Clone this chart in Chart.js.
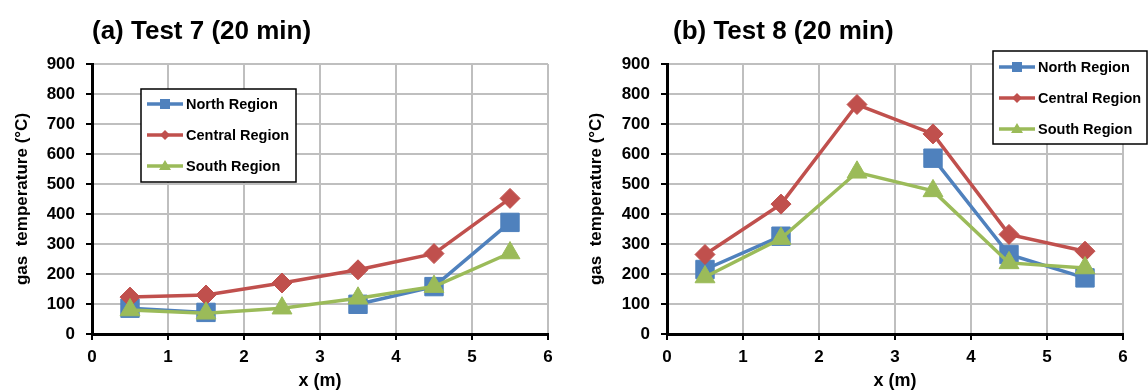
<!DOCTYPE html>
<html>
<head>
<meta charset="utf-8">
<script src="https://cdn.jsdelivr.net/npm/chart.js@4.4.1/dist/chart.umd.min.js"></script>
<style>
html,body{margin:0;padding:0;background:#fff;}
#wrap{display:flex;width:1148px;height:392px;overflow:hidden;}
.panel{position:relative;width:574px;height:392px;}
.panel canvas{position:absolute;left:0;top:0;}
.ttl{position:absolute;top:15px;font:bold 26px "Liberation Sans",Arial,sans-serif;color:#000;white-space:nowrap;line-height:30px;}
</style>
</head>
<body>
<div id="wrap">
  <div class="panel">
    <canvas id="test7" width="574" height="392"></canvas>
    <div class="ttl" style="left:92px">(a) Test 7 (20 min)</div>
  </div>
  <div class="panel">
    <canvas id="test8" width="574" height="392"></canvas>
    <div class="ttl" style="left:99px">(b) Test 8 (20 min)</div>
  </div>
</div>
<script>
// x positions along the tunnel (m)
const xPos = [0.5, 1.5, 2.5, 3.5, 4.5, 5.5];
const seriesNames = ['North Region', 'Central Region', 'South Region'];
const seriesColors = ['#4F81BD', '#C0504D', '#9BBB59'];
const pointStyles = ['rect', 'rectRot', 'triangle'];
const pointSizes = [13, 10, 11.5];

// Test 7, gas temperature at 20 min (°C)
const test7North = [86, 72, null, 99, 158, 372];
const test7Central = [123, 130, 170, 214, 268, 452];
const test7South = [80, 69, 86, 119, 158, 270];

// Test 8, gas temperature at 20 min (°C)
const test8North = [215, 326, null, 586, 265, 187];
const test8Central = [265, 433, 765, 667, 332, 276];
const test8South = [190, 318, 539, 477, 237, 220];

const FONT = '"Liberation Sans", Arial, sans-serif';

// legend drawn as a bordered box inside the plot, like the Excel one
const boxLegend = {
  id: 'boxLegend',
  afterDraw(chart, args, o) {
    const ctx = chart.ctx;
    const a = chart.chartArea;
    const x = a.left + o.dx, y = a.top + o.dy;
    ctx.save();
    ctx.fillStyle = '#fff';
    ctx.fillRect(x, y, o.w, o.h);
    ctx.strokeStyle = '#000';
    ctx.lineWidth = 1.5;
    ctx.strokeRect(x, y, o.w, o.h);
    chart.data.datasets.forEach((ds, i) => {
      const ry = y + o.first + i * o.gap;
      ctx.strokeStyle = ds.borderColor;
      ctx.lineWidth = 3.5;
      ctx.beginPath();
      ctx.moveTo(x + 6, ry);
      ctx.lineTo(x + 42, ry);
      ctx.stroke();
      ctx.fillStyle = ds.borderColor;
      const cx = x + 24;
      ctx.beginPath();
      if (ds.pointStyle === 'rect') {
        ctx.rect(cx - 5, ry - 5, 10, 10);
      } else if (ds.pointStyle === 'rectRot') {
        ctx.moveTo(cx, ry - 5); ctx.lineTo(cx + 5, ry); ctx.lineTo(cx, ry + 5); ctx.lineTo(cx - 5, ry);
        ctx.closePath();
      } else {
        ctx.moveTo(cx, ry - 6); ctx.lineTo(cx + 6, ry + 4); ctx.lineTo(cx - 6, ry + 4);
        ctx.closePath();
      }
      ctx.fill();
      ctx.fillStyle = '#000';
      ctx.font = 'bold 14.5px ' + FONT;
      ctx.textBaseline = 'middle';
      ctx.fillText(ds.label, x + 45, ry + 1);
    });
    ctx.restore();
  }
};

function makeDatasets(north, central, south){
  return [north, central, south].map((vals, i) => ({
    label: seriesNames[i],
    data: xPos.map((x, j) => ({x: x, y: vals[j]})),
    borderColor: seriesColors[i],
    backgroundColor: seriesColors[i],
    pointStyle: pointStyles[i],
    pointRadius: pointSizes[i],
    pointBorderWidth: 1,
    pointBorderColor: seriesColors[i],
    borderWidth: 3.5,
    tension: 0,
    spanGaps: false,
    order: 2 - i
  }));
}

function makeChart(id, datasets, yWidth, rightPad, legendPos){
  const tickFont = {family: FONT, size: 17, weight: 'bold'};
  return new Chart(document.getElementById(id), {
    type: 'line',
    data: {datasets: datasets},
    plugins: [boxLegend],
    options: {
      responsive: false,
      animation: false,
      layout: {padding: {left: 0, right: rightPad, top: 64, bottom: 0}},
      plugins: {
        legend: {display: false},
        tooltip: {enabled: false},
        boxLegend: legendPos
      },
      scales: {
        x: {
          type: 'linear', min: 0, max: 6,
          ticks: {stepSize: 1, font: tickFont, color: '#000', padding: 7},
          grid: {color: '#bfbfbf', lineWidth: 2, tickColor: '#000', tickLength: 6, tickWidth: 2},
          border: {color: '#000', width: 3},
          title: {display: true, text: 'x (m)', color: '#000', font: {family: FONT, size: 18, weight: 'bold'}, padding: 0},
          afterFit(s){ s.height = 58; }
        },
        y: {
          min: 0, max: 900,
          ticks: {stepSize: 100, font: tickFont, color: '#000', padding: 11},
          grid: {color: '#bfbfbf', lineWidth: 2, tickColor: '#000', tickLength: 6, tickWidth: 2},
          border: {color: '#000', width: 3},
          title: {display: true, text: 'gas  temperature (°C)', color: '#000', font: {family: FONT, size: 17, weight: 'bold'}, padding: {top: 12, bottom: 0}},
          afterFit(s){ s.width = yWidth; }
        }
      }
    }
  });
}

makeChart('test7', makeDatasets(test7North, test7Central, test7South), 92, 26,
  {dx: 49, dy: 25, w: 155, h: 93, first: 15, gap: 31});
makeChart('test8', makeDatasets(test8North, test8Central, test8South), 93, 25,
  {dx: 326, dy: -13, w: 154, h: 93, first: 16, gap: 31});
</script>
</body>
</html>
